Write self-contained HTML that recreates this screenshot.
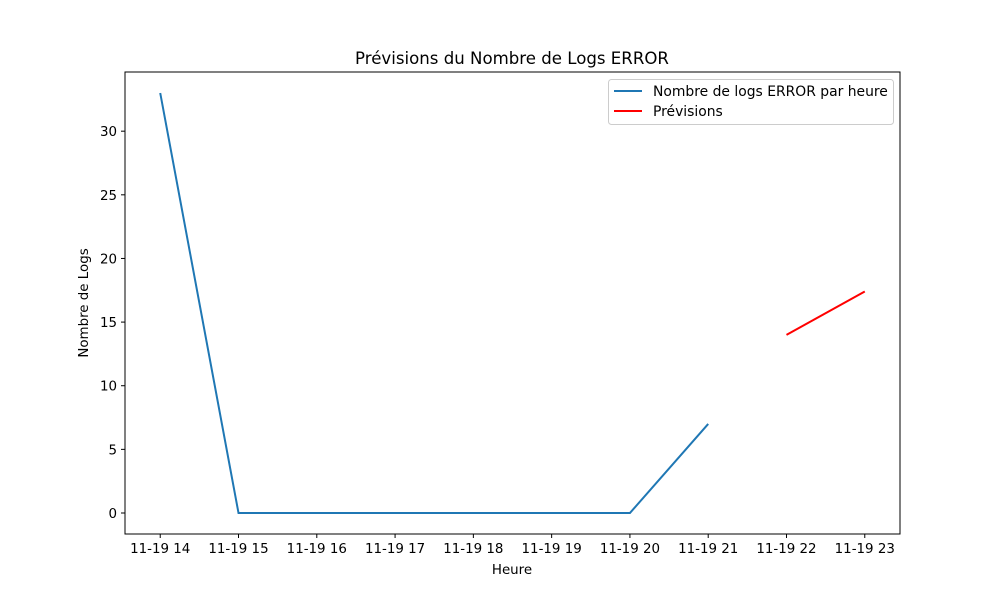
<!DOCTYPE html>
<html><head><meta charset="utf-8"><style>
body{margin:0;background:#fff;}
svg{display:block;font-family:"DejaVu Sans","Liberation Sans",sans-serif;}
</style></head><body>
<svg id="chart" width="1000" height="600"></svg>
<script>
const hours = [14,15,16,17,18,19,20,21,22,23];
const tickLabels = ["11-19 14","11-19 15","11-19 16","11-19 17","11-19 18","11-19 19","11-19 20","11-19 21","11-19 22","11-19 23"];
const actualHours = [14,15,16,17,18,19,20,21];
const actualValues = [33,0,0,0,0,0,0,7];
const forecastHours = [22,23];
const forecastValues = [14,17.4];
const yTicks = [0,5,10,15,20,25,30];

const L=125,R=900,T=72,B=534;
const xmin=13.55,xmax=23.45,ymin=-1.65,ymax=34.65;
const X=v=>L+(v-xmin)/(xmax-xmin)*(R-L);
const Y=v=>B-(v-ymin)/(ymax-ymin)*(B-T);
const svg=document.getElementById('chart');
const NS='http://www.w3.org/2000/svg';
function mk(tag,attrs,parent){const e=document.createElementNS(NS,tag);for(const k in attrs)e.setAttribute(k,attrs[k]);(parent||svg).appendChild(e);return e;}

const title=mk('text',{x:512,y:64,'text-anchor':'middle','font-size':16.6});
title.textContent='Prévisions du Nombre de Logs ERROR';



hours.forEach((h,i)=>{
  const g=mk('g',{});
  
  
  mk('line',{x1:X(h),x2:X(h),y1:B,y2:B+4,stroke:'#000'},g);
  const t=mk('text',{x:X(h),y:B+19,'text-anchor':'middle','font-size':13.4},g);
  t.textContent=tickLabels[i];
});
yTicks.forEach(v=>{
  const g=mk('g',{});
  
  
  mk('line',{x1:L-4,x2:L,y1:Y(v),y2:Y(v),stroke:'#000'},g);
  const t=mk('text',{x:L-8,y:Y(v)+5,'text-anchor':'end','font-size':13.4},g);
  t.textContent=v;
});
const xl=mk('text',{x:512,y:574,'text-anchor':'middle','font-size':13.4});
xl.textContent='Heure';


const yl=mk('text',{x:0,y:0,transform:'translate(88,303) rotate(-90)','text-anchor':'middle','font-size':13.4});
yl.textContent='Nombre de Logs';



const a=mk('polyline',{points:actualHours.map((h,i)=>X(h)+','+Y(actualValues[i])).join(' '),fill:'none',stroke:'#1f77b4','stroke-width':2});


const f=mk('polyline',{points:forecastHours.map((h,i)=>X(h)+','+Y(forecastValues[i])).join(' '),fill:'none',stroke:'red','stroke-width':2});



const frame=mk('rect',{x:L,y:T,width:R-L,height:B-T,fill:'none',stroke:'#000','stroke-width':1});



const lg=mk('g',{});


mk('rect',{x:608.5,y:79.5,width:285,height:45,rx:3,fill:'#fff',stroke:'#ccc'},lg);
mk('line',{x1:614,x2:642,y1:91,y2:91,stroke:'#1f77b4','stroke-width':2},lg);
const t1=mk('text',{x:653,y:96,'font-size':13.9},lg);t1.textContent='Nombre de logs ERROR par heure';
mk('line',{x1:614,x2:642,y1:111,y2:111,stroke:'red','stroke-width':2},lg);
const t2=mk('text',{x:653,y:116,'font-size':13.9},lg);t2.textContent='Prévisions';
</script>
</body></html>
